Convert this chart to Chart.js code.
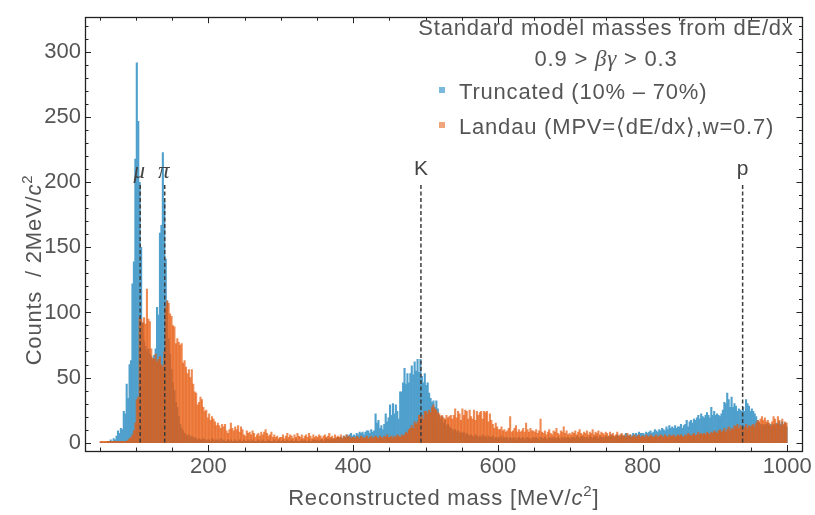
<!DOCTYPE html>
<html>
<head>
<meta charset="utf-8">
<script src="https://cdn.jsdelivr.net/npm/chart.js@4.4.1/dist/chart.umd.min.js"></script>
<style>
  html, body { margin: 0; padding: 0; background: #fff; }
  #wrap { width: 815px; height: 515px; }
</style>
</head>
<body>
<div id="wrap"><canvas id="massChart" width="815" height="515"></canvas></div>
<script>
// --- Histogram binning: 2 MeV/c^2 bins from 50 to 1000 ---
const BIN_START = 50;
const BIN_WIDTH = 2;

// Truncated mean (10% - 70%), one row = 50 MeV = 25 bins
const truncatedCounts = [
    0, 0, 0, 0, 0, 1, 1, 2, 1, 3, 2, 5, 9, 7, 11, 10, 24, 22, 45, 34, 60, 63, 122, 139, 218,
    292, 247, 200, 150, 92, 78, 74, 70, 72, 68, 66, 64, 67, 72, 104, 98, 161, 167, 223, 185, 141, 109, 80, 68, 56,
    46, 40, 31, 27, 20, 14, 11, 9, 7, 6, 5, 6, 4, 5, 3, 4, 3, 2, 3, 2, 2, 3, 2, 1, 2,
    2, 1, 3, 2, 1, 2, 2, 1, 3, 1, 2, 1, 1, 2, 1, 2, 1, 1, 2, 1, 1, 2, 1, 1, 2,
    1, 1, 2, 1, 1, 2, 1, 1, 1, 2, 1, 1, 2, 1, 1, 1, 2, 1, 1, 1, 2, 1, 1, 2, 1,
    1, 2, 1, 1, 2, 1, 1, 2, 1, 1, 2, 1, 1, 1, 2, 1, 2, 1, 1, 2, 1, 1, 2, 2, 1,
    2, 1, 2, 2, 1, 2, 3, 2, 2, 3, 2, 3, 2, 3, 4, 3, 4, 3, 5, 4, 6, 5, 6, 7, 5,
    6, 5, 7, 6, 8, 7, 8, 6, 8, 9, 9, 7, 10, 8, 9, 22, 15, 17, 11, 13, 10, 14, 22, 16, 19,
    29, 21, 30, 22, 29, 24, 18, 39, 39, 46, 57, 45, 53, 46, 53, 59, 52, 62, 55, 64, 54, 64, 51, 46, 53,
    44, 46, 38, 34, 31, 32, 27, 32, 26, 21, 18, 20, 15, 17, 13, 14, 12, 11, 10, 9, 10, 8, 9, 7, 8,
    7, 8, 6, 7, 6, 5, 6, 5, 4, 6, 5, 4, 5, 4, 6, 4, 5, 3, 5, 4, 4, 5, 3, 4, 3,
    4, 3, 5, 3, 4, 3, 4, 2, 4, 3, 3, 4, 2, 3, 4, 3, 3, 4, 2, 3, 4, 3, 3, 2, 4,
    3, 4, 3, 2, 4, 3, 3, 4, 3, 2, 4, 3, 3, 4, 3, 3, 4, 3, 2, 4, 3, 4, 3, 4, 3,
    3, 4, 4, 3, 5, 4, 3, 4, 5, 3, 4, 4, 3, 5, 4, 3, 4, 5, 4, 3, 5, 4, 4, 3, 5,
    4, 5, 4, 6, 5, 4, 5, 6, 5, 4, 6, 5, 5, 7, 6, 5, 6, 5, 7, 6, 7, 6, 8, 7, 7,
    7, 6, 8, 7, 8, 9, 7, 8, 10, 9, 8, 10, 9, 11, 10, 9, 12, 10, 13, 11, 12, 11, 13, 11, 12,
    12, 14, 11, 13, 14, 17, 12, 16, 17, 15, 18, 17, 19, 21, 18, 22, 20, 19, 21, 23, 21, 19, 27, 21, 24,
    21, 22, 21, 20, 22, 25, 31, 30, 38, 33, 27, 35, 27, 30, 28, 24, 26, 25, 24, 27, 24, 33, 30, 28, 24,
    26, 24, 22, 20, 17, 15, 14, 12, 14, 13, 14, 15, 13, 14, 12, 14, 13, 15, 14, 16, 14, 16, 13, 15, 12
];

// Landau fit (MPV = <dE/dx>, w = 0.7), same binning
const landauCounts = [
    1, 1, 1, 1, 1, 1, 1, 1, 1, 1, 1, 1, 1, 1, 1, 1, 1, 1, 1, 2, 3, 4, 6, 9, 15,
    33, 35, 96, 95, 92, 96, 91, 118, 95, 93, 72, 65, 64, 68, 62, 64, 66, 60, 58, 70, 104, 109, 107, 99, 97,
    90, 89, 76, 80, 77, 75, 76, 61, 63, 58, 53, 56, 50, 56, 45, 39, 38, 29, 31, 35, 33, 27, 24, 25, 19,
    22, 17, 20, 18, 16, 13, 15, 13, 11, 14, 12, 14, 9, 7, 10, 15, 11, 9, 12, 10, 13, 8, 12, 10, 6,
    5, 9, 7, 8, 6, 9, 7, 4, 6, 7, 5, 8, 6, 8, 10, 7, 5, 6, 8, 4, 6, 4, 5, 3, 4,
    4, 6, 3, 5, 7, 4, 6, 5, 3, 6, 4, 7, 5, 4, 6, 3, 5, 6, 4, 7, 5, 3, 6, 4, 5,
    4, 6, 5, 3, 5, 6, 4, 5, 7, 4, 5, 3, 6, 4, 5, 4, 6, 3, 5, 4, 6, 4, 5, 3, 4,
    4, 3, 5, 4, 3, 5, 4, 3, 4, 5, 3, 4, 5, 3, 4, 5, 4, 3, 5, 4, 3, 5, 4, 6, 4,
    4, 5, 3, 5, 4, 6, 5, 4, 6, 5, 6, 8, 7, 10, 11, 13, 11, 16, 14, 16, 21, 19, 21, 18, 24,
    24, 22, 25, 23, 27, 29, 26, 25, 23, 22, 20, 21, 19, 18, 21, 19, 20, 21, 18, 21, 26, 19, 24, 22, 17,
    26, 21, 25, 24, 18, 25, 20, 18, 25, 17, 24, 21, 23, 24, 18, 24, 23, 24, 16, 22, 17, 14, 11, 15, 12,
    10, 10, 12, 9, 10, 8, 9, 11, 20, 8, 9, 11, 13, 8, 10, 8, 9, 11, 8, 15, 10, 8, 11, 9, 9,
    8, 10, 7, 9, 18, 8, 7, 9, 6, 8, 10, 7, 6, 9, 8, 11, 7, 6, 9, 8, 12, 7, 9, 6, 7,
    6, 8, 7, 9, 6, 8, 10, 7, 6, 8, 7, 9, 6, 8, 7, 10, 6, 8, 7, 9, 6, 8, 7, 6, 8,
    7, 5, 8, 6, 7, 5, 6, 8, 5, 6, 7, 5, 6, 4, 7, 5, 6, 4, 5, 6, 4, 5, 6, 4, 5,
    5, 4, 6, 5, 4, 6, 5, 4, 5, 6, 4, 5, 6, 5, 4, 6, 5, 4, 6, 5, 5, 6, 4, 5, 6,
    5, 6, 5, 4, 6, 5, 7, 6, 5, 6, 7, 5, 6, 8, 6, 7, 6, 7, 6, 8, 7, 6, 8, 7, 9,
    8, 7, 9, 10, 8, 9, 11, 8, 10, 12, 9, 11, 10, 13, 12, 14, 11, 13, 12, 10, 12, 14, 11, 13, 12,
    13, 14, 12, 15, 17, 16, 18, 20, 17, 19, 16, 17, 15, 13, 16, 20, 18, 14, 20, 17, 13, 18, 14, 16, 15
];

// Standard model reference masses (MeV/c^2)
const particleNames = ['\u03bc', '\u03c0', 'K', 'p'];
const particleMasses = [105.66, 139.57, 493.68, 938.27];
const MARKER_TOP = 200;

const xTicks = [200, 400, 600, 800, 1000];
const yTicks = [0, 50, 100, 150, 200, 250, 300];

const COLOR_TRUNC = 'rgb(80, 160, 205)';
const COLOR_LANDAU = 'rgba(231, 88, 12, 0.7)';
const TEXT = '#555555';
const SANS = '"Liberation Sans", Arial, sans-serif';
const SERIF = '"Liberation Serif", "DejaVu Serif", serif';

const binCenter = i => BIN_START + BIN_WIDTH * (i + 0.5);
const toPoints = counts => counts.map((c, i) => ({ x: binCenter(i), y: c }));

// text made of pieces with different fonts: [{t, font, dy}]
function pieceWidth(ctx, pieces) {
    let w = 0;
    pieces.forEach(p => { ctx.font = p.font; w += ctx.measureText(p.t).width; });
    return w;
}
function drawPieces(ctx, pieces, x, y) {
    pieces.forEach(p => {
        ctx.font = p.font;
        ctx.fillText(p.t, x, y + (p.dy || 0));
        x += ctx.measureText(p.t).width;
    });
}

// --- Frame with inward ticks on all four sides ---
const frameTicks = {
    id: 'frameTicks',
    afterDatasetsDraw(chart) {
        const { ctx, chartArea: a, scales: { x, y } } = chart;
        ctx.save();
        ctx.strokeStyle = '#222';
        ctx.lineWidth = 1;
        ctx.beginPath();
        for (let v = 50; v <= 1000; v += 50) {
            const px = Math.round(x.getPixelForValue(v)) + 0.5;
            const len = v % 200 === 0 ? 6 : 3.5;
            ctx.moveTo(px, a.bottom); ctx.lineTo(px, a.bottom - len);
            ctx.moveTo(px, a.top); ctx.lineTo(px, a.top + len);
        }
        for (let v = 0; v <= 320; v += 10) {
            const py = Math.round(y.getPixelForValue(v)) + 0.5;
            const len = v % 50 === 0 ? 6 : 3.5;
            ctx.moveTo(a.left, py); ctx.lineTo(a.left + len, py);
            ctx.moveTo(a.right, py); ctx.lineTo(a.right - len, py);
        }
        ctx.stroke();
        ctx.lineWidth = 1.3;
        ctx.strokeRect(Math.round(a.left) + 0.5, Math.round(a.top) + 0.5,
            Math.round(a.right - a.left), Math.round(a.bottom - a.top));

        // particle labels above the dashed markers
        ctx.fillStyle = '#444';
        ctx.textAlign = 'center';
        ctx.textBaseline = 'alphabetic';
        particleNames.forEach((n, i) => {
            const greek = i < 2;
            ctx.font = greek ? 'italic 23px ' + SERIF : '21px ' + SANS;
            const px = x.getPixelForValue(particleMasses[i]) - (greek ? 1 : 0);
            ctx.fillText(n, px, y.getPixelForValue(MARKER_TOP) + (greek ? -4 : -7));
        });
        ctx.restore();
    }
};

// --- Legend block + axis titles ---
const annotations = {
    id: 'annotations',
    afterDraw(chart) {
        const { ctx, chartArea: a } = chart;
        ctx.save();
        ctx.fillStyle = TEXT;
        ctx.textAlign = 'left';
        ctx.textBaseline = 'alphabetic';
        ctx.letterSpacing = '0.8px';
        const f = '22px ' + SANS;
        const fi = 'italic 22px ' + SANS;
        const fs = '15px ' + SANS;

        const cx = 606;
        const l1 = [{ t: 'Standard model masses from dE/dx', font: f }];
        drawPieces(ctx, l1, cx - pieceWidth(ctx, l1) / 2, 35);
        const l2 = [
            { t: '0.9 > ', font: f },
            { t: '\u03b2\u03b3', font: 'italic 23px ' + SERIF },
            { t: ' > 0.3', font: f }
        ];
        drawPieces(ctx, l2, cx - pieceWidth(ctx, l2) / 2, 66);

        ctx.fillStyle = 'rgb(120, 185, 220)';
        ctx.fillRect(439, 87, 6, 6);
        ctx.fillStyle = 'rgb(240, 165, 125)';
        ctx.fillRect(439, 122, 6, 6);
        ctx.fillStyle = TEXT;
        drawPieces(ctx, [{ t: 'Truncated (10% \u2013 70%)', font: f }], 459, 99);
        drawPieces(ctx, [{ t: 'Landau (MPV=\u27e8dE/dx\u27e9,w=0.7)', font: f }], 459, 134);

        // x axis title
        const xt = [
            { t: 'Reconstructed mass [MeV/', font: f },
            { t: 'c', font: fi },
            { t: '2', font: fs, dy: -9 },
            { t: ']', font: f }
        ];
        drawPieces(ctx, xt, (a.left + a.right) / 2 - pieceWidth(ctx, xt) / 2, 505);

        // y axis title (rotated)
        const yt = [
            { t: 'Counts  / 2MeV/', font: f },
            { t: 'c', font: fi },
            { t: '2', font: fs, dy: -9 }
        ];
        ctx.translate(41, 270);
        ctx.rotate(-Math.PI / 2);
        drawPieces(ctx, yt, -pieceWidth(ctx, yt) / 2, 0);
        ctx.restore();
    }
};

const markerSets = particleMasses.map(m => ({
    type: 'line',
    data: [{ x: m, y: 0 }, { x: m, y: MARKER_TOP }],
    borderColor: '#3c3c3c',
    borderWidth: 1.5,
    borderDash: [4, 2.5],
    pointRadius: 0,
    order: 0
}));

new Chart(document.getElementById('massChart'), {
    type: 'bar',
    data: {
        datasets: [
            {
                label: 'Truncated (10% \u2013 70%)',
                data: toPoints(truncatedCounts),
                backgroundColor: COLOR_TRUNC,
                borderWidth: 0,
                barPercentage: 1,
                categoryPercentage: 1,
                grouped: false,
                order: 2
            },
            {
                label: 'Landau (MPV=\u27e8dE/dx\u27e9,w=0.7)',
                data: toPoints(landauCounts),
                backgroundColor: COLOR_LANDAU,
                borderWidth: 0,
                barPercentage: 1,
                categoryPercentage: 1,
                grouped: false,
                order: 1
            },
            ...markerSets
        ]
    },
    options: {
        responsive: false,
        devicePixelRatio: 1,
        animation: false,
        layout: { padding: { left: 0, right: 11, top: 5, bottom: 0 } },
        plugins: { legend: { display: false }, tooltip: { enabled: false } },
        scales: {
            x: {
                type: 'linear',
                offset: false,
                min: 29.4,
                max: 1021,
                grid: { display: false, drawTicks: false, offset: false },
                border: { display: false },
                afterBuildTicks: s => { s.ticks = xTicks.map(v => ({ value: v })); },
                afterFit: s => { s.height = 64; },
                ticks: {
                    color: TEXT, padding: 3, maxRotation: 0,
                    font: { family: SANS, size: 22 },
                    callback: v => String(v)
                }
            },
            y: {
                min: -6.5,
                max: 327,
                grid: { display: false, drawTicks: false },
                border: { display: false },
                afterBuildTicks: s => { s.ticks = yTicks.map(v => ({ value: v })); },
                afterFit: s => { s.width = 85; },
                ticks: { color: TEXT, padding: 4, font: { family: SANS, size: 22 } }
            }
        }
    },
    plugins: [frameTicks, annotations]
});
</script>
</body>
</html>
